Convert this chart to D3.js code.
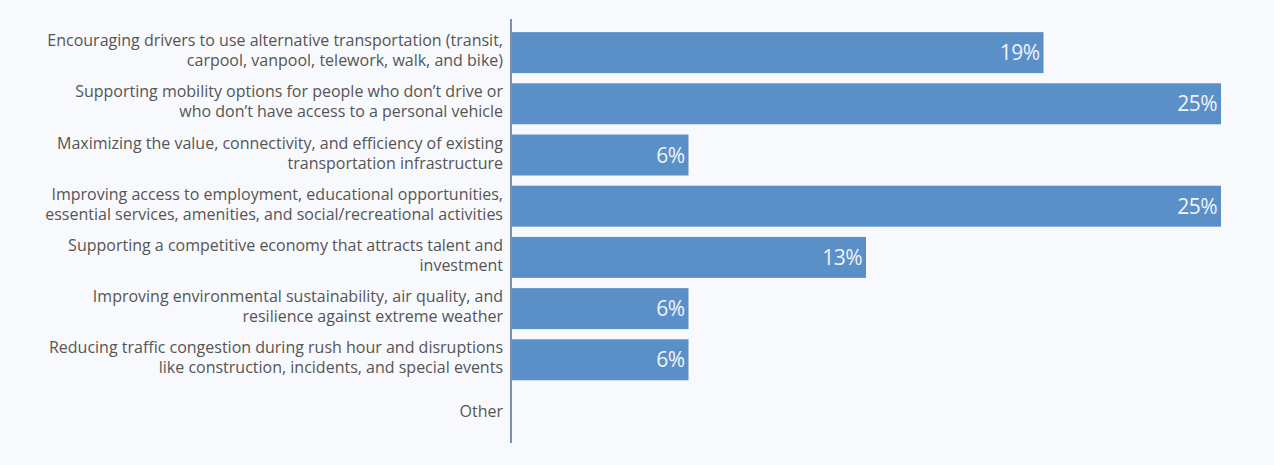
<!DOCTYPE html>
<html><head><meta charset="utf-8">
<script src="https://cdn.jsdelivr.net/npm/d3@7"></script>
<style>
html,body{margin:0;padding:0;background:#f8f9fc;}
svg{display:block;}
</style></head>
<body>
<svg id="chart" width="1274" height="465"></svg>
<script>
const categories = [
  ["Encouraging drivers to use alternative transportation (transit,", "carpool, vanpool, telework, walk, and bike)"],
  ["Supporting mobility options for people who don\u2019t drive or", "who don\u2019t have access to a personal vehicle"],
  ["Maximizing the value, connectivity, and efficiency of existing", "transportation infrastructure"],
  ["Improving access to employment, educational opportunities,", "essential services, amenities, and social/recreational activities"],
  ["Supporting a competitive economy that attracts talent and", "investment"],
  ["Improving environmental sustainability, air quality, and", "resilience against extreme weather"],
  ["Reducing traffic congestion during rush hour and disruptions", "like construction, incidents, and special events"],
  ["Other"]
];
const values = [18.75, 25, 6.25, 25, 12.5, 6.25, 6.25, 0];

const rows = values.map((v, i) => ({ i, v, lines: categories[i] }));

const svg = d3.select("#chart");
const x0 = 511, x1 = 1221;
const x = d3.scaleLinear().domain([0, 25]).range([x0, x1]);
const y = d3.scaleBand().domain(d3.range(categories.length)).range([27, 436.6]).paddingInner(0.2).paddingOuter(0.1);

svg.append("g").selectAll("rect").data(rows).join("rect")
  .attr("x", x(0)).attr("y", d => y(d.i))
  .attr("width", d => x(d.v) - x(0)).attr("height", y.bandwidth())
  .attr("fill", "#5b8fc8");

svg.append("g").selectAll("text").data(rows.filter(d => d.v > 0)).join("text")
  .attr("x", d => x(d.v) - 4)
  .attr("y", d => y(d.i) + y.bandwidth() / 2)
  .attr("dy", "0.36em")
  .attr("text-anchor", "end")
  .attr("fill", "#eef4fc")
  .attr("font-family", "Open Sans, sans-serif")
  .attr("font-size", 21)
  .attr("letter-spacing", -0.5)
  .text(d => Math.round(d.v) + "%");

const lab = svg.append("g").attr("font-family", "Open Sans, sans-serif").attr("font-size", 16).attr("fill", "#555");
rows.forEach(r => {
  const cy = y(r.i) + y.bandwidth() / 2 - (r.lines.length > 1 ? 2 : 0);
  const lh = 20;
  r.lines.forEach((t, j) => {
    lab.append("text")
      .attr("x", 503)
      .attr("y", cy + (j - (r.lines.length - 1) / 2) * lh)
      .attr("dy", "0.35em")
      .attr("text-anchor", "end")
      .text(t);
  });
});

svg.append("line").attr("x1", x0).attr("x2", x0).attr("y1", 19).attr("y2", 443)
  .attr("stroke", "#7d90a6").attr("stroke-width", 2);
</script>
</body></html>
